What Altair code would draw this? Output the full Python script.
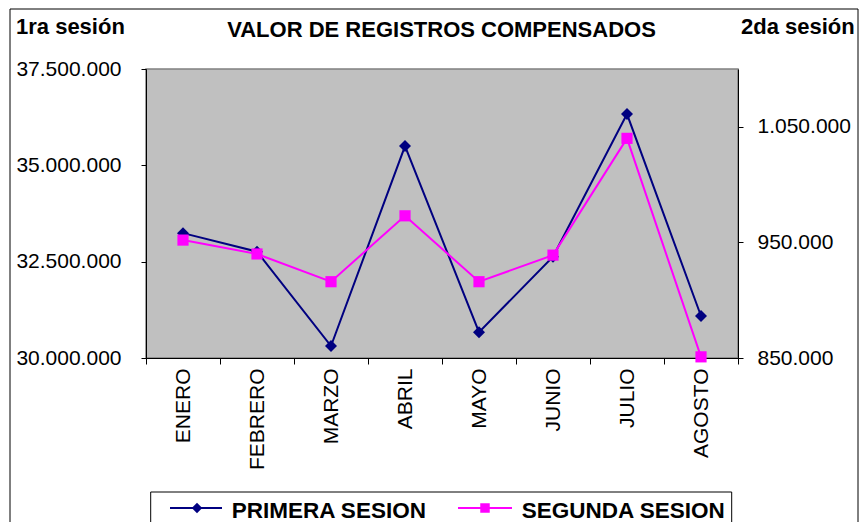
import altair as alt
import pandas as pd

months = ["ENERO", "FEBRERO", "MARZO", "ABRIL", "MAYO", "JUNIO", "JULIO", "AGOSTO"]
primera = [33240000, 32760000, 30310000, 35500000, 30670000, 32630000, 36330000, 31090000]
segunda = [952000, 940000, 916000, 973000, 916000, 939000, 1040000, 851000]
series_names = ["PRIMERA SESION", "SEGUNDA SESION"]
title_text = "VALOR DE REGISTROS COMPENSADOS"
left_label = "1ra sesión"
right_label = "2da sesión"
left_ticks = [30000000, 32500000, 35000000, 37500000]
right_ticks = [850000, 950000, 1050000]

df = pd.DataFrame({"mes": months, "primera": primera, "segunda": segunda})

FONT = "Liberation Sans"
NAVY = "#000080"
MAGENTA = "#FF00FF"
dot_fmt = "replace(replace(format(datum.value, ','), ',', '.'), ',', '.')"

x_enc = alt.X(
    "mes:N", sort=months, bandPosition=0.5,
    scale=alt.Scale(type="band", paddingInner=0, paddingOuter=0),
    axis=alt.Axis(title=None, labelAngle=-90, labelAlign="right", labelBaseline="middle",
                  labelFontSize=21, labelFont=FONT, labelColor="black", tickBand="extent",
                  tickSize=6, tickColor="black", domainColor="black", labelPadding=4,
                  grid=False),
)

line1 = alt.Chart(df).mark_line(
    color=NAVY, strokeWidth=2,
    point=alt.OverlayMarkDef(shape="diamond", size=144, filled=True, color=NAVY, opacity=1),
).encode(
    x=x_enc,
    y=alt.Y("primera:Q", scale=alt.Scale(domain=[30000000, 37500000], zero=False, nice=False),
            axis=alt.Axis(orient="left", values=left_ticks, labelExpr=dot_fmt, title=None,
                          grid=False, labelFontSize=21, labelFont=FONT, labelColor="black",
                          tickSize=5, tickColor="black", domainColor="black", labelPadding=20)),
)

line2 = alt.Chart(df).mark_line(
    color=MAGENTA, strokeWidth=2,
    point=alt.OverlayMarkDef(shape="square", size=125, filled=True, color=MAGENTA, opacity=1),
).encode(
    x=x_enc,
    y=alt.Y("segunda:Q", scale=alt.Scale(domain=[850000, 1100000], zero=False, nice=False),
            axis=alt.Axis(orient="right", values=right_ticks, labelExpr=dot_fmt, title=None,
                          grid=False, labelFontSize=21, labelFont=FONT, labelColor="black",
                          tickSize=5, tickColor="black", domainColor="black", labelPadding=14)),
)

one = pd.DataFrame({"k": [0]})

border = alt.Chart(one).mark_rect(fillOpacity=0, stroke="black", strokeWidth=1).encode(
    x=alt.value(-136), x2=alt.value(712), y=alt.value(-60), y2=alt.value(480))

title = alt.Chart(pd.DataFrame({"t": [title_text]})).mark_text(
    font=FONT, fontSize=22, fontWeight="bold", align="center", baseline="alphabetic", color="black"
).encode(text="t:N", x=alt.value(295.5), y=alt.value(-32))

ltxt = alt.Chart(pd.DataFrame({"t": [left_label]})).mark_text(
    font=FONT, fontSize=22, fontWeight="bold", align="left", baseline="alphabetic", color="black"
).encode(text="t:N", x=alt.value(-130), y=alt.value(-35))

rtxt = alt.Chart(pd.DataFrame({"t": [right_label]})).mark_text(
    font=FONT, fontSize=22, fontWeight="bold", align="left", baseline="alphabetic", color="black"
).encode(text="t:N", x=alt.value(595), y=alt.value(-35))

leg_box = alt.Chart(one).mark_rect(fill="white", stroke="black", strokeWidth=1).encode(
    x=alt.value(4.7), x2=alt.value(585.7), y=alt.value(423), y2=alt.value(480))

leg_df1 = pd.DataFrame({"t": [series_names[0]]})
leg_df2 = pd.DataFrame({"t": [series_names[1]]})

leg_l1 = alt.Chart(leg_df1).mark_rule(color=NAVY, strokeWidth=2).encode(
    x=alt.value(24), x2=alt.value(76), y=alt.value(439))
leg_p1 = alt.Chart(leg_df1).mark_point(shape="diamond", size=110, filled=True, color=NAVY, opacity=1).encode(
    x=alt.value(51), y=alt.value(439))
leg_t1 = alt.Chart(leg_df1).mark_text(font=FONT, fontSize=22.5, fontWeight="bold", align="left",
                                      baseline="alphabetic", color="black").encode(
    text="t:N", x=alt.value(85.7), y=alt.value(449))

leg_l2 = alt.Chart(leg_df2).mark_rule(color=MAGENTA, strokeWidth=2).encode(
    x=alt.value(312), x2=alt.value(366), y=alt.value(439))
leg_p2 = alt.Chart(leg_df2).mark_point(shape="square", size=90, filled=True, color=MAGENTA, opacity=1).encode(
    x=alt.value(339), y=alt.value(439))
leg_t2 = alt.Chart(leg_df2).mark_text(font=FONT, fontSize=22.5, fontWeight="bold", align="left",
                                      baseline="alphabetic", color="black").encode(
    text="t:N", x=alt.value(375.7), y=alt.value(449))

chart = alt.layer(
    line1, line2, border, title, ltxt, rtxt,
    leg_box, leg_l1, leg_p1, leg_t1, leg_l2, leg_p2, leg_t2,
).resolve_scale(y="independent").properties(
    width=592, height=289,
    autosize=alt.AutoSizeParams(type="none"),
    padding={"left": 138, "top": 61, "right": 122, "bottom": 164},
    background="white",
).configure_view(fill="#C0C0C0", stroke="#808080", strokeWidth=1.5)

chart.save("out.html", embed_options={"renderer": "svg", "actions": False})
